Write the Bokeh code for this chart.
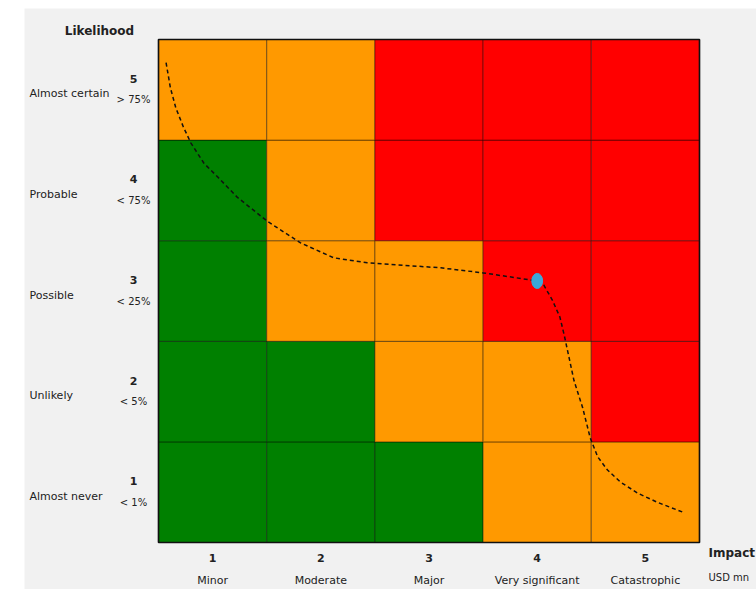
from bokeh.plotting import figure
from bokeh.models import Range1d
from bokeh.core.properties import value
from bokeh.embed import file_html
from bokeh.resources import INLINE

# Axis categories
impact_levels = [1, 2, 3, 4, 5]
impact_names = ["Minor", "Moderate", "Major", "Very significant", "Catastrophic"]
likelihood_levels = [1, 2, 3, 4, 5]
likelihood_names = ["Almost never", "Unlikely", "Possible", "Probable", "Almost certain"]
likelihood_pct = ["< 1%", "< 5%", "< 25%", "< 75%", "> 75%"]

# Risk rating per cell, rows from likelihood 1 (bottom) to 5 (top)
ratings = [
    ["low", "low", "low", "medium", "medium"],
    ["low", "low", "medium", "medium", "high"],
    ["low", "medium", "medium", "high", "high"],
    ["low", "medium", "high", "high", "high"],
    ["medium", "medium", "high", "high", "high"],
]
rating_colors = {"low": "#008000", "medium": "#FF9900", "high": "#FF0000"}

# Risk tolerance curve (impact, likelihood)
curve_x = [0.57, 0.61, 0.66, 0.73, 0.80, 0.92, 1.05, 1.23, 1.51, 1.81, 2.12, 2.43,
           2.71, 3.11, 3.50, 3.94, 4.06, 4.14, 4.21, 4.25, 4.29, 4.34, 4.42, 4.49,
           4.56, 4.65, 4.77, 4.93, 5.11, 5.35]
curve_y = [5.27, 5.02, 4.82, 4.63, 4.47, 4.27, 4.13, 3.93, 3.69, 3.48, 3.33, 3.28,
           3.26, 3.23, 3.18, 3.11, 3.06, 2.91, 2.74, 2.56, 2.36, 2.11, 1.84, 1.54,
           1.35, 1.22, 1.10, 0.99, 0.90, 0.80]

# Current risk position
risk_x = [4.0]
risk_y = [3.1]

FONT = value("DejaVu Sans")
TEXT_COLOR = "#222222"

# Canvas geometry: the matrix occupies the central part, labels sit around it
W, H = 732, 581
CELL_W, CELL_H = 108.2, 100.6
PAD_L, PAD_R, PAD_T, PAD_B = 134, 57, 31, 47
px_x = 1.0 / CELL_W   # one pixel in x data units
px_y = 1.0 / CELL_H   # one pixel in y data units

x_lo = 0.5 - PAD_L * px_x
x_hi = 0.5 + (W - PAD_L) * px_x
y_lo = 0.5 - PAD_B * px_y
y_hi = 0.5 + (H - PAD_B) * px_y

cell_x, cell_y, cell_c = [], [], []
for r, row in enumerate(ratings):
    for c, rating in enumerate(row):
        cell_x.append(impact_levels[c])
        cell_y.append(likelihood_levels[r])
        cell_c.append(rating_colors[rating])

p = figure(width=W, height=H, output_backend="svg", toolbar_location=None,
           x_range=Range1d(x_lo, x_hi), y_range=Range1d(y_lo, y_hi),
           min_border=0, background_fill_color="#F1F1F1",
           border_fill_color="#F1F1F1", margin=(8, 0, 0, 24))
p.axis.visible = False
p.grid.visible = False
p.outline_line_color = None

p.rect(x=cell_x, y=cell_y, width=1, height=1, fill_color=cell_c,
       line_color="#000000", line_alpha=0.35, line_width=1.2)

# Matrix border
n_x, n_y = len(impact_levels), len(likelihood_levels)
p.rect(x=[(1 + n_x) / 2], y=[(1 + n_y) / 2], width=n_x, height=n_y,
       fill_color=None, line_color="#111111", line_width=1.6)

p.line(curve_x, curve_y, line_color="#111111", line_width=1.5, line_dash="4 3",
       line_join="round")
p.ellipse(x=risk_x, y=risk_y, width=0.1, height=0.15, fill_color="#3DA8D8",
          line_color="#3DA8D8")

# Likelihood labels on the left
name_x = 0.5 - 129 * px_x
num_x = 0.5 - 25 * px_x
p.text(x=[name_x] * n_y, y=[v - 4 * px_y for v in likelihood_levels],
       text=likelihood_names, text_font=FONT, text_font_size="11px",
       text_color=TEXT_COLOR, text_align="left", text_baseline="middle")
p.text(x=[num_x] * n_y, y=[v + 11 * px_y for v in likelihood_levels],
       text=[str(v) for v in likelihood_levels], text_font=FONT,
       text_font_size="11px", text_font_style="bold", text_color=TEXT_COLOR,
       text_align="center", text_baseline="middle")
p.text(x=[num_x] * n_y, y=[v - 10 * px_y for v in likelihood_levels],
       text=likelihood_pct, text_font=FONT, text_font_size="10px",
       text_color=TEXT_COLOR, text_align="center", text_baseline="middle")

# Impact labels along the bottom
p.text(x=impact_levels, y=[0.5 - 15 * px_y] * n_x,
       text=[str(v) for v in impact_levels], text_font=FONT,
       text_font_size="11px", text_font_style="bold", text_color=TEXT_COLOR,
       text_align="center", text_baseline="middle")
p.text(x=impact_levels, y=[0.5 - 38 * px_y] * n_x, text=impact_names,
       text_font=FONT, text_font_size="11px", text_color=TEXT_COLOR,
       text_align="center", text_baseline="middle")

# Axis titles
p.text(x=[0.5 - 59 * px_x], y=[5.5 + 9 * px_y], text=["Likelihood"],
       text_font=FONT, text_font_size="12px", text_font_style="bold",
       text_color=TEXT_COLOR, text_align="center", text_baseline="middle")
p.text(x=[5.5 + 9 * px_x], y=[0.5 - 10 * px_y], text=["Impact"],
       text_font=FONT, text_font_size="12px", text_font_style="bold",
       text_color=TEXT_COLOR, text_align="left", text_baseline="middle")
p.text(x=[5.5 + 9 * px_x], y=[0.5 - 35 * px_y], text=["USD mn"],
       text_font=FONT, text_font_size="10px", text_color=TEXT_COLOR,
       text_align="left", text_baseline="middle")

open("out.html", "w").write(file_html(p, INLINE))
